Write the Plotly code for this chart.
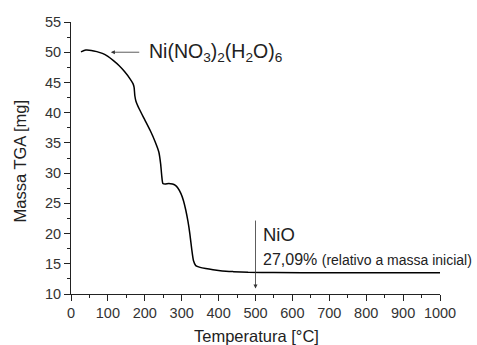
import plotly.graph_objects as go

temperature = [27, 40, 55, 70, 85, 100, 115, 130, 145, 160, 168, 171, 173, 176, 185, 200, 215, 228, 238, 243, 246, 249, 255, 265, 275, 282, 290, 298, 305, 311, 317, 322, 327, 332, 338, 350, 365, 385, 410, 440, 480, 550, 700, 850, 1000]
mass = [50.05, 50.35, 50.3, 50.1, 49.8, 49.3, 48.6, 47.8, 46.8, 45.6, 44.8, 44.2, 42.8, 41.9, 40.6, 38.8, 37.0, 35.2, 33.5, 31.5, 29.5, 28.3, 28.2, 28.3, 28.2, 28.0, 27.5, 26.6, 25.4, 23.9, 22.0, 20.0, 17.5, 15.5, 14.7, 14.4, 14.2, 14.0, 13.8, 13.7, 13.6, 13.55, 13.5, 13.5, 13.5]

x_ticks = [0, 100, 200, 300, 400, 500, 600, 700, 800, 900, 1000]
y_ticks = [10, 15, 20, 25, 30, 35, 40, 45, 50, 55]

FONT = "Liberation Sans, Arial, sans-serif"
TXT = "#222"
fig = go.Figure()
fig.add_trace(go.Scatter(x=temperature, y=mass, mode="lines",
                         line=dict(color="black", width=1.5, shape="spline", smoothing=0.6),
                         showlegend=False, hoverinfo="skip"))

axis_common = dict(showline=True, linecolor="#222", linewidth=1, ticks="outside",
                   ticklen=6, tickwidth=1, tickcolor="#222", showgrid=False, zeroline=False,
                   tickfont=dict(family=FONT, size=14.5, color="#333"))

fig.update_xaxes(range=[0, 1000], tickvals=x_ticks, ticktext=[str(v) for v in x_ticks],
                 minor=dict(dtick=50, ticklen=3, tickcolor="#222", ticks="outside", showgrid=False),
                 **axis_common)
fig.update_yaxes(range=[10, 55], tickvals=y_ticks, ticktext=[str(v) for v in y_ticks],
                 minor=dict(dtick=2.5, ticklen=3, tickcolor="#222", ticks="outside", showgrid=False),
                 **axis_common)

# axis titles
fig.add_annotation(x=0.504, y=0, xref="paper", yref="paper", yshift=-42, xanchor="center", yanchor="middle",
                   text="Temperatura [°C]", showarrow=False, font=dict(family=FONT, size=16.5, color=TXT))
fig.add_annotation(x=0, y=0.489, xref="paper", yref="paper", xshift=-51.5, xanchor="center", yanchor="middle",
                   textangle=-90, text="Massa TGA [mg]", showarrow=False,
                   font=dict(family=FONT, size=16.5, color=TXT))

# Ni(NO3)2(H2O)6 arrow and label
fig.add_annotation(x=108, y=50, ax=189, ay=50, xref="x", yref="y", axref="x", ayref="y",
                   text="", showarrow=True, arrowhead=2, arrowsize=1, arrowwidth=0.8, arrowcolor="#333")
fig.add_annotation(x=206, y=50, xref="x", yref="y", xanchor="left", yanchor="middle",
                   text="Ni(NO<sub>3</sub>)<sub>2</sub>(H<sub>2</sub>O)<sub>6</sub>", showarrow=False,
                   font=dict(family=FONT, size=19.5, color=TXT))

# NiO arrow and labels
fig.add_annotation(x=500, y=10.9, ax=500, ay=22.4, xref="x", yref="y", axref="x", ayref="y",
                   text="", showarrow=True, arrowhead=2, arrowsize=1, arrowwidth=0.8, arrowcolor="#333")
fig.add_annotation(x=516, y=19.8, xref="x", yref="y", xanchor="left", yanchor="middle",
                   text="NiO", showarrow=False, font=dict(family=FONT, size=18.5, color=TXT))
fig.add_annotation(x=516, y=15.7, xref="x", yref="y", xanchor="left", yanchor="middle",
                   text="27,09% <span style='font-size:14px'>(relativo a massa inicial)</span>",
                   showarrow=False, font=dict(family=FONT, size=16, color=TXT))

fig.update_layout(width=477, height=345, margin=dict(l=71, r=37, t=22, b=51),
                  plot_bgcolor="white", paper_bgcolor="white", font=dict(family=FONT))
fig.write_html("out.html")
